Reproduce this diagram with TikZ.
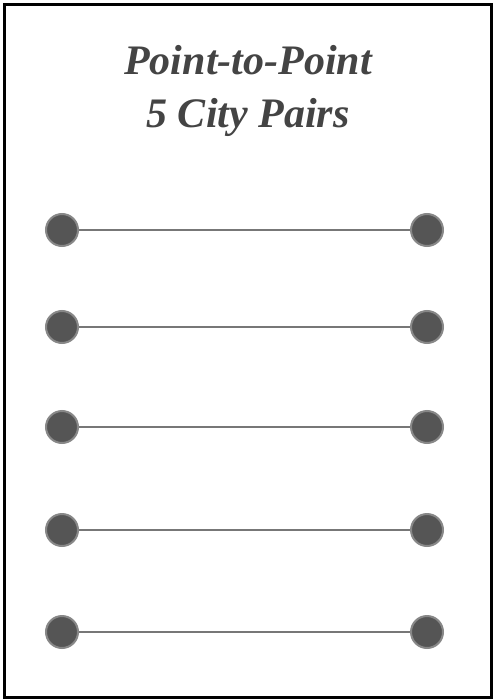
\documentclass[tikz,border=0pt]{standalone}
\usepackage{fontspec}
\setmainfont{Liberation Serif}
\definecolor{titlegray}{HTML}{444444}
\definecolor{dotfill}{HTML}{555555}
\definecolor{dotedge}{HTML}{888888}
\definecolor{linkgray}{HTML}{777777}
\begin{document}
\begin{tikzpicture}[x=1pt,y=-1pt,
  city/.style={circle,fill=dotfill,draw=dotedge,line width=2pt,minimum size=32pt,inner sep=0pt},
  link/.style={draw=linkgray,line width=2.5pt},
  titletext/.style={font=\fontsize{42}{42}\selectfont\bfseries\itshape,text=titlegray,anchor=base,inner sep=0pt}]
\useasboundingbox (0,0) rectangle (493,700);
\draw[line width=3pt,black] (4.5,4.5) rectangle (491.5,697);
\node[titletext] (t1) at (248,75) {Point-to-Point};
\node[titletext] (t2) at (248,128) {5 City Pairs};
\foreach \i/\y in {1/230,2/327,3/427,4/530,5/632}{
  \node[city] (a\i) at (62,\y) {};
  \node[city] (b\i) at (427,\y) {};
  \draw[link] (a\i) -- (b\i);
}
\end{tikzpicture}
\end{document}
